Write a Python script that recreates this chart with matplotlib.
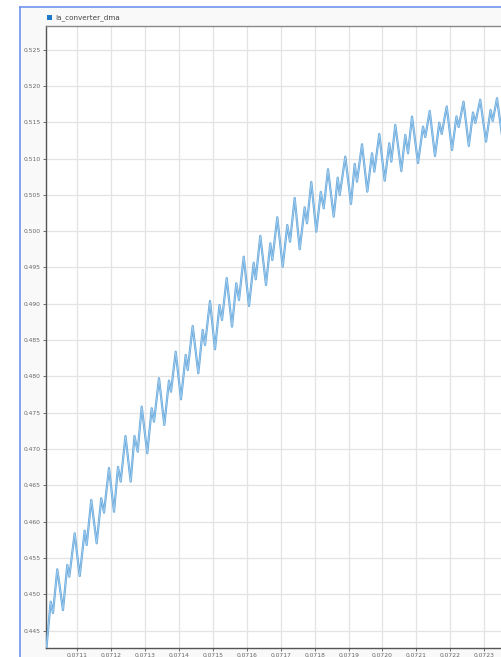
import numpy as np
import matplotlib
matplotlib.use("Agg")
import matplotlib.pyplot as plt
from matplotlib.lines import Line2D
from matplotlib.patches import Rectangle

# Ia_converter_dma samples (time in ms, current)
t_ms = [
    71.0089, 71.0212, 71.0280, 71.0407, 71.0575, 71.0702, 71.0761, 71.0920,
    71.1068, 71.1215, 71.1274, 71.1410, 71.1569, 71.1705, 71.1785, 71.1932,
    71.2080, 71.2198, 71.2277, 71.2419, 71.2572, 71.2684, 71.2779, 71.2897,
    71.3062, 71.3192, 71.3260, 71.3407, 71.3564, 71.3702, 71.3761, 71.3900,
    71.4056, 71.4195, 71.4254, 71.4401, 71.4567, 71.4696, 71.4764, 71.4912,
    71.5059, 71.5192, 71.5266, 71.5404, 71.5561, 71.5688, 71.5767, 71.5906,
    71.6062, 71.6201, 71.6260, 71.6396, 71.6564, 71.6691, 71.6750, 71.6897,
    71.7056, 71.7192, 71.7272, 71.7410, 71.7558, 71.7705, 71.7773, 71.7900,
    71.8048, 71.8180, 71.8266, 71.8393, 71.8561, 71.8679, 71.8738, 71.8903,
    71.9071, 71.9180, 71.9248, 71.9396, 71.9552, 71.9691, 71.9759, 71.9906,
    72.0065, 72.0201, 72.0260, 72.0378, 72.0555, 72.0673, 72.0753, 72.0871,
    72.1048, 72.1195, 72.1263, 72.1393, 72.1549, 72.1676, 72.1747, 72.1894,
    72.2051, 72.2183, 72.2248, 72.2390, 72.2546, 72.2670, 72.2738, 72.2883,
    72.3054, 72.3187, 72.3251, 72.3378, 72.3540,
]
ia = [
    0.44273, 0.44897, 0.44741, 0.45343, 0.44782, 0.45402, 0.45241, 0.45839,
    0.45251, 0.45875, 0.45678, 0.46298, 0.45701, 0.46321, 0.46123, 0.46738,
    0.46136, 0.46752, 0.46550, 0.47179, 0.46550, 0.47179, 0.46963, 0.47583,
    0.46941, 0.47561, 0.47376, 0.47974, 0.47331, 0.47941, 0.47789, 0.48340,
    0.47685, 0.48295, 0.48088, 0.48694, 0.48043, 0.48639, 0.48433, 0.49039,
    0.48373, 0.48983, 0.48777, 0.49355, 0.48685, 0.49282, 0.49052, 0.49649,
    0.48970, 0.49566, 0.49337, 0.49934, 0.49259, 0.49833, 0.49603, 0.50191,
    0.49511, 0.50085, 0.49855, 0.50457, 0.49751, 0.50329, 0.50109, 0.50678,
    0.49993, 0.50540, 0.50315, 0.50853, 0.50200, 0.50737, 0.50499, 0.51026,
    0.50375, 0.50926, 0.50682, 0.51197, 0.50544, 0.51073, 0.50820, 0.51339,
    0.50696, 0.51211, 0.50957, 0.51463, 0.50829, 0.51325, 0.51073, 0.51577,
    0.50939, 0.51439, 0.51297, 0.51656, 0.51036, 0.51494, 0.51339, 0.51718,
    0.51118, 0.51580, 0.51435, 0.51784, 0.51174, 0.51635, 0.51490, 0.51811,
    0.51233, 0.51669, 0.51518, 0.51831, 0.51270,
]

x_ticks = [0.0711, 0.0712, 0.0713, 0.0714, 0.0715, 0.0716, 0.0717,
           0.0718, 0.0719, 0.0720, 0.0721, 0.0722, 0.0723]
y_ticks = [0.445, 0.450, 0.455, 0.460, 0.465, 0.470, 0.475, 0.480,
           0.485, 0.490, 0.495, 0.500, 0.505, 0.510, 0.515, 0.520, 0.525]
series_name = "Ia_converter_dma"

W, H = 502, 657
fig = plt.figure(figsize=(W / 100, H / 100), dpi=100)
fig.patch.set_facecolor("white")

# panel background and blue frame
fig.patches.append(Rectangle((20.5 / W, 0), 1, 1 - 7 / H, transform=fig.transFigure,
                             facecolor="#f9f9f9", edgecolor="none", zorder=-5))
fig.lines.append(Line2D([20.5 / W, 20.5 / W], [0, 1 - 7 / H], transform=fig.transFigure,
                        color="#7094ee", lw=1.2, zorder=-4))
fig.lines.append(Line2D([20.5 / W, 1], [1 - 7 / H, 1 - 7 / H], transform=fig.transFigure,
                        color="#7094ee", lw=1.2, zorder=-4))

ax_w = (W - 46 + 6) / W
ax = fig.add_axes([46 / W, 1 - 648 / H, ax_w, 622 / H])
ax.set_zorder(1)
ax.set_facecolor("white")

t = np.array(t_ms) * 1e-3
ax.plot(t, ia, color="#6aaadd", lw=1.6, solid_joinstyle="round", zorder=3)
ax.plot(t, ia, color="#a9d1ef", lw=0.5, solid_joinstyle="round", zorder=4)

px_per_s = 33.9 / 1e-4
x0 = 0.0710074
ax.set_xlim(x0, x0 + (W - 46 + 6) / px_per_s)
ax.set_ylim(0.44259, 0.52826)

ax.set_xticks(x_ticks)
ax.set_yticks(y_ticks)
ax.set_xticklabels([f"{v:.4f}" for v in x_ticks])
ax.set_yticklabels([f"{v:.3f}" for v in y_ticks])
ax.tick_params(axis="both", labelsize=4.3, labelcolor="#666666", color="#555555",
               length=2.5, width=0.6, pad=1.2)

ax.grid(True, color="#e3e3e3", lw=0.9)
ax.set_axisbelow(True)
for side in ("left", "bottom"):
    ax.spines[side].set_color("#555555")
    ax.spines[side].set_linewidth(1.0)
ax.spines["top"].set_color("#8a8a8a")
ax.spines["top"].set_linewidth(1.0)
ax.spines["right"].set_visible(False)

# legend entry above the plot
fig.patches.append(Rectangle((47.5 / W, 1 - 19.5 / H), 4.5 / W, 4.5 / H,
                             transform=fig.transFigure, facecolor="#1f77c8",
                             edgecolor="none"))
fig.text(55.5 / W, 1 - 17.3 / H, series_name, fontsize=5.2, color="#444444",
         va="center", ha="left")

fig.savefig("out.png", dpi=100, facecolor=fig.get_facecolor())
